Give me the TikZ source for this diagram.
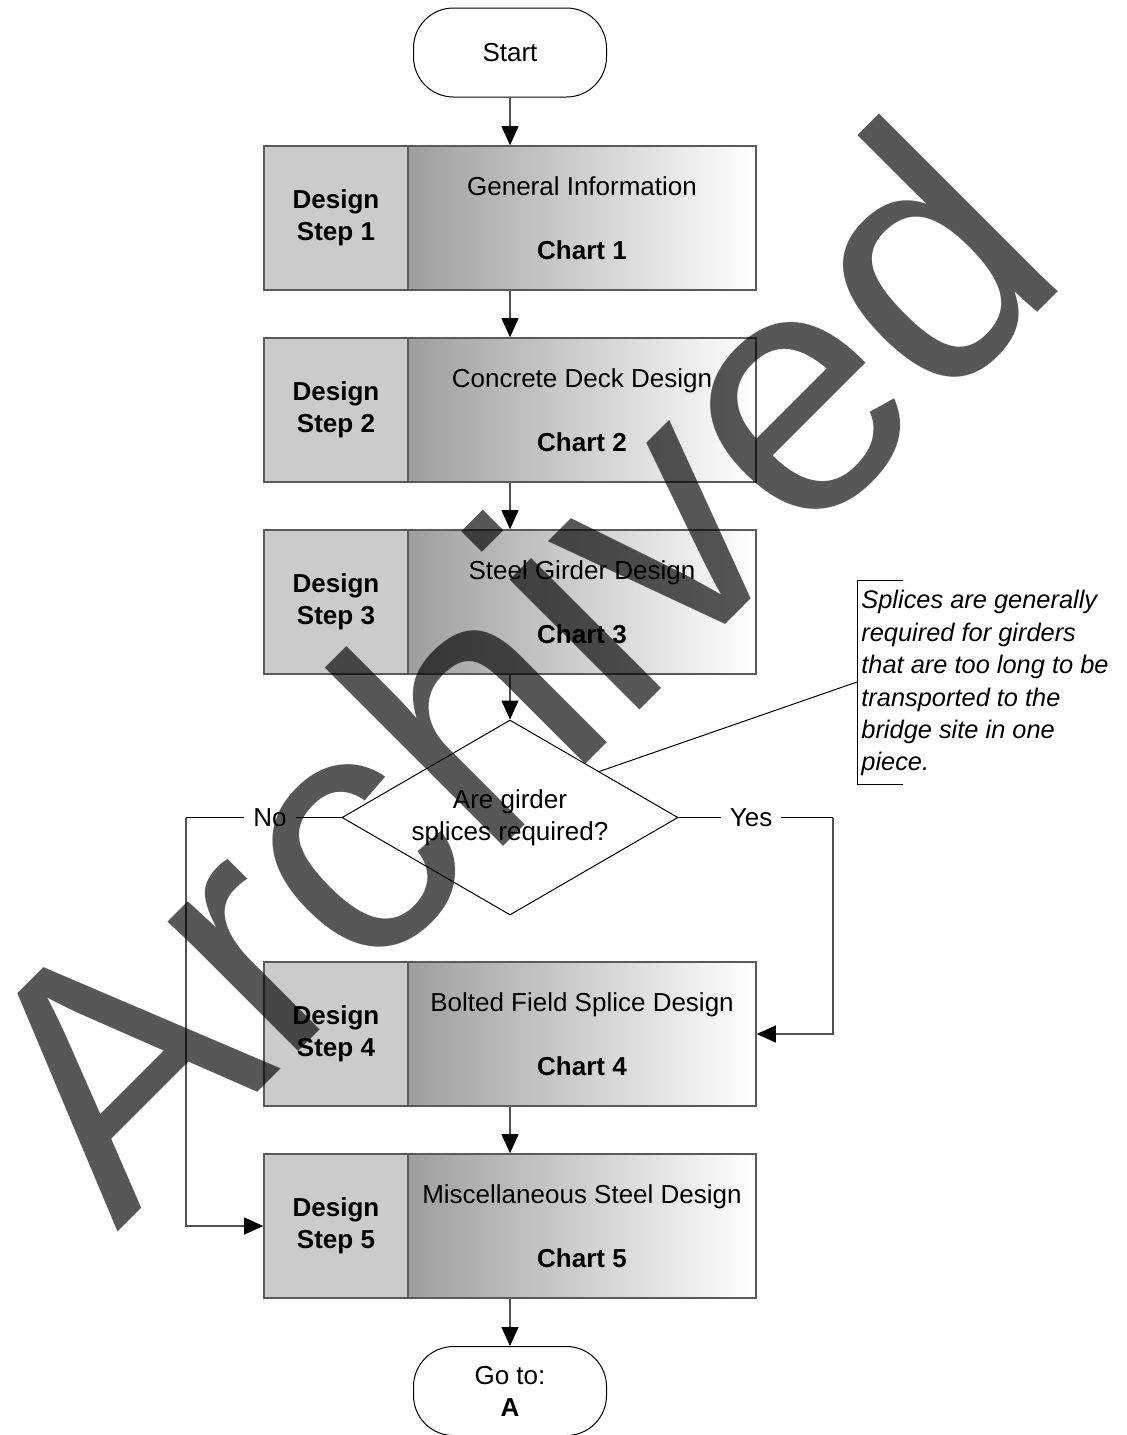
\documentclass[tikz,border=0pt]{standalone}
\usepackage{fontspec}
\setmainfont{Liberation Sans}
\usetikzlibrary{arrows.meta,calc,shapes.geometric}
\definecolor{edgegray}{HTML}{5A5A5A}
\definecolor{lineg}{HTML}{505050}
\definecolor{stipple}{HTML}{CBCBCB}
\begin{document}
\begin{tikzpicture}[x=0.5pt,y=-0.5pt,
  every node/.style={font=\fontsize{13}{16}\selectfont, inner sep=0pt},
  terminal/.style={draw=black, line width=0.5pt, rounded corners=20pt,
    minimum width=96.5pt, minimum height=44.5pt, align=center, fill=white},
  steplabel/.style={draw=edgegray, line width=0.8pt, fill=stipple,
    minimum width=72pt, minimum height=72pt, align=center,
    font=\fontsize{13}{16}\selectfont\bfseries},
  chartbox/.style={draw=edgegray, line width=0.8pt, left color=black!38,
    right color=white, minimum width=174pt, minimum height=72pt, align=center},
  decision/.style={diamond, draw=black, line width=0.5pt, aspect=1.72,
    minimum width=168pt, minimum height=97.5pt, align=center},
  flow/.style={draw=lineg, line width=0.6pt,
    -{Triangle[length=9.5pt,width=8.5pt,color=black]}},
  branch/.style={draw=black, line width=0.5pt},
  branchlabel/.style={fill=white, inner xsep=4.5pt, inner ysep=1pt},
  note/.style={align=left, font=\fontsize{12.7}{16.2}\selectfont\itshape},
  watermark/.style={font=\fontsize{174}{174}\selectfont, text=black, text opacity=0.66},
]
\useasboundingbox (0,0) rectangle (1127,1435);
\clip (0,0) rectangle (1127,1435);

% main axis of the flow
\coordinate (axis) at (510,0);

% terminals
\node[terminal] (start) at (510,52.5) {Start};
\node[terminal] (goto) at (510,1391) {Go to:\\\textbf{A}};

% design steps: stipple label on the left, shaded chart box on the right
\node[steplabel] (d1) at (336,218) {Design\\Step 1};
\node[chartbox]  (c1) at (582,218) {General Information\\[16pt]\textbf{Chart 1}};
\node[steplabel] (d2) at (336,410) {Design\\Step 2};
\node[chartbox]  (c2) at (582,410) {Concrete Deck Design\\[16pt]\textbf{Chart 2}};
\node[steplabel] (d3) at (336,602) {Design\\Step 3};
\node[chartbox]  (c3) at (582,602) {Steel Girder Design\\[16pt]\textbf{Chart 3}};
\node[steplabel] (d4) at (336,1034) {Design\\Step 4};
\node[chartbox]  (c4) at (582,1034) {Bolted Field Splice Design\\[16pt]\textbf{Chart 4}};
\node[steplabel] (d5) at (336,1226) {Design\\Step 5};
\node[chartbox]  (c5) at (582,1226) {Miscellaneous Steel Design\\[16pt]\textbf{Chart 5}};

% decision
\node[decision] (dec) at (510,817.5) {Are girder\\splices required?};

% main flow arrows
\draw[flow] (start.south) -- (axis |- c1.north);
\draw[flow] (axis |- c1.south) -- (axis |- c2.north);
\draw[flow] (axis |- c2.south) -- (axis |- c3.north);
\draw[flow] (axis |- c3.south) -- (dec.north);
\draw[flow] (axis |- c4.south) -- (axis |- c5.north);
\draw[flow] (axis |- c5.south) -- (goto.north);

% branches
\coordinate (nocorner) at (186,817.5);
\coordinate (yescorner) at (833,817.5);
\draw[branch] (dec.west) -- node[branchlabel, pos=0.46] {No} (nocorner);
\draw[flow] (nocorner) |- (d5.west);
\draw[branch] (dec.east) -- node[branchlabel, pos=0.47] {Yes} (yescorner);
\draw[flow] (yescorner) |- (c4.east);

% annotation with its bracket and leader
\node[note, anchor=north west] (note) at (861,590)
  {Splices are generally\\required for girders\\that are too long to be\\transported to the\\bridge site in one\\piece.};
\draw[line width=0.5pt, draw=black] (903,580) -- (857,580) -- (857,784) -- (903,784);
\coordinate (notelead) at (857,682);
\draw[line width=0.5pt] ($(dec.north)!0.53!(dec.east)$) -- (notelead);

% watermark
\node[watermark, rotate=45, anchor=base west] (wm) at (117,1233) {Archived};
\end{tikzpicture}
\end{document}
